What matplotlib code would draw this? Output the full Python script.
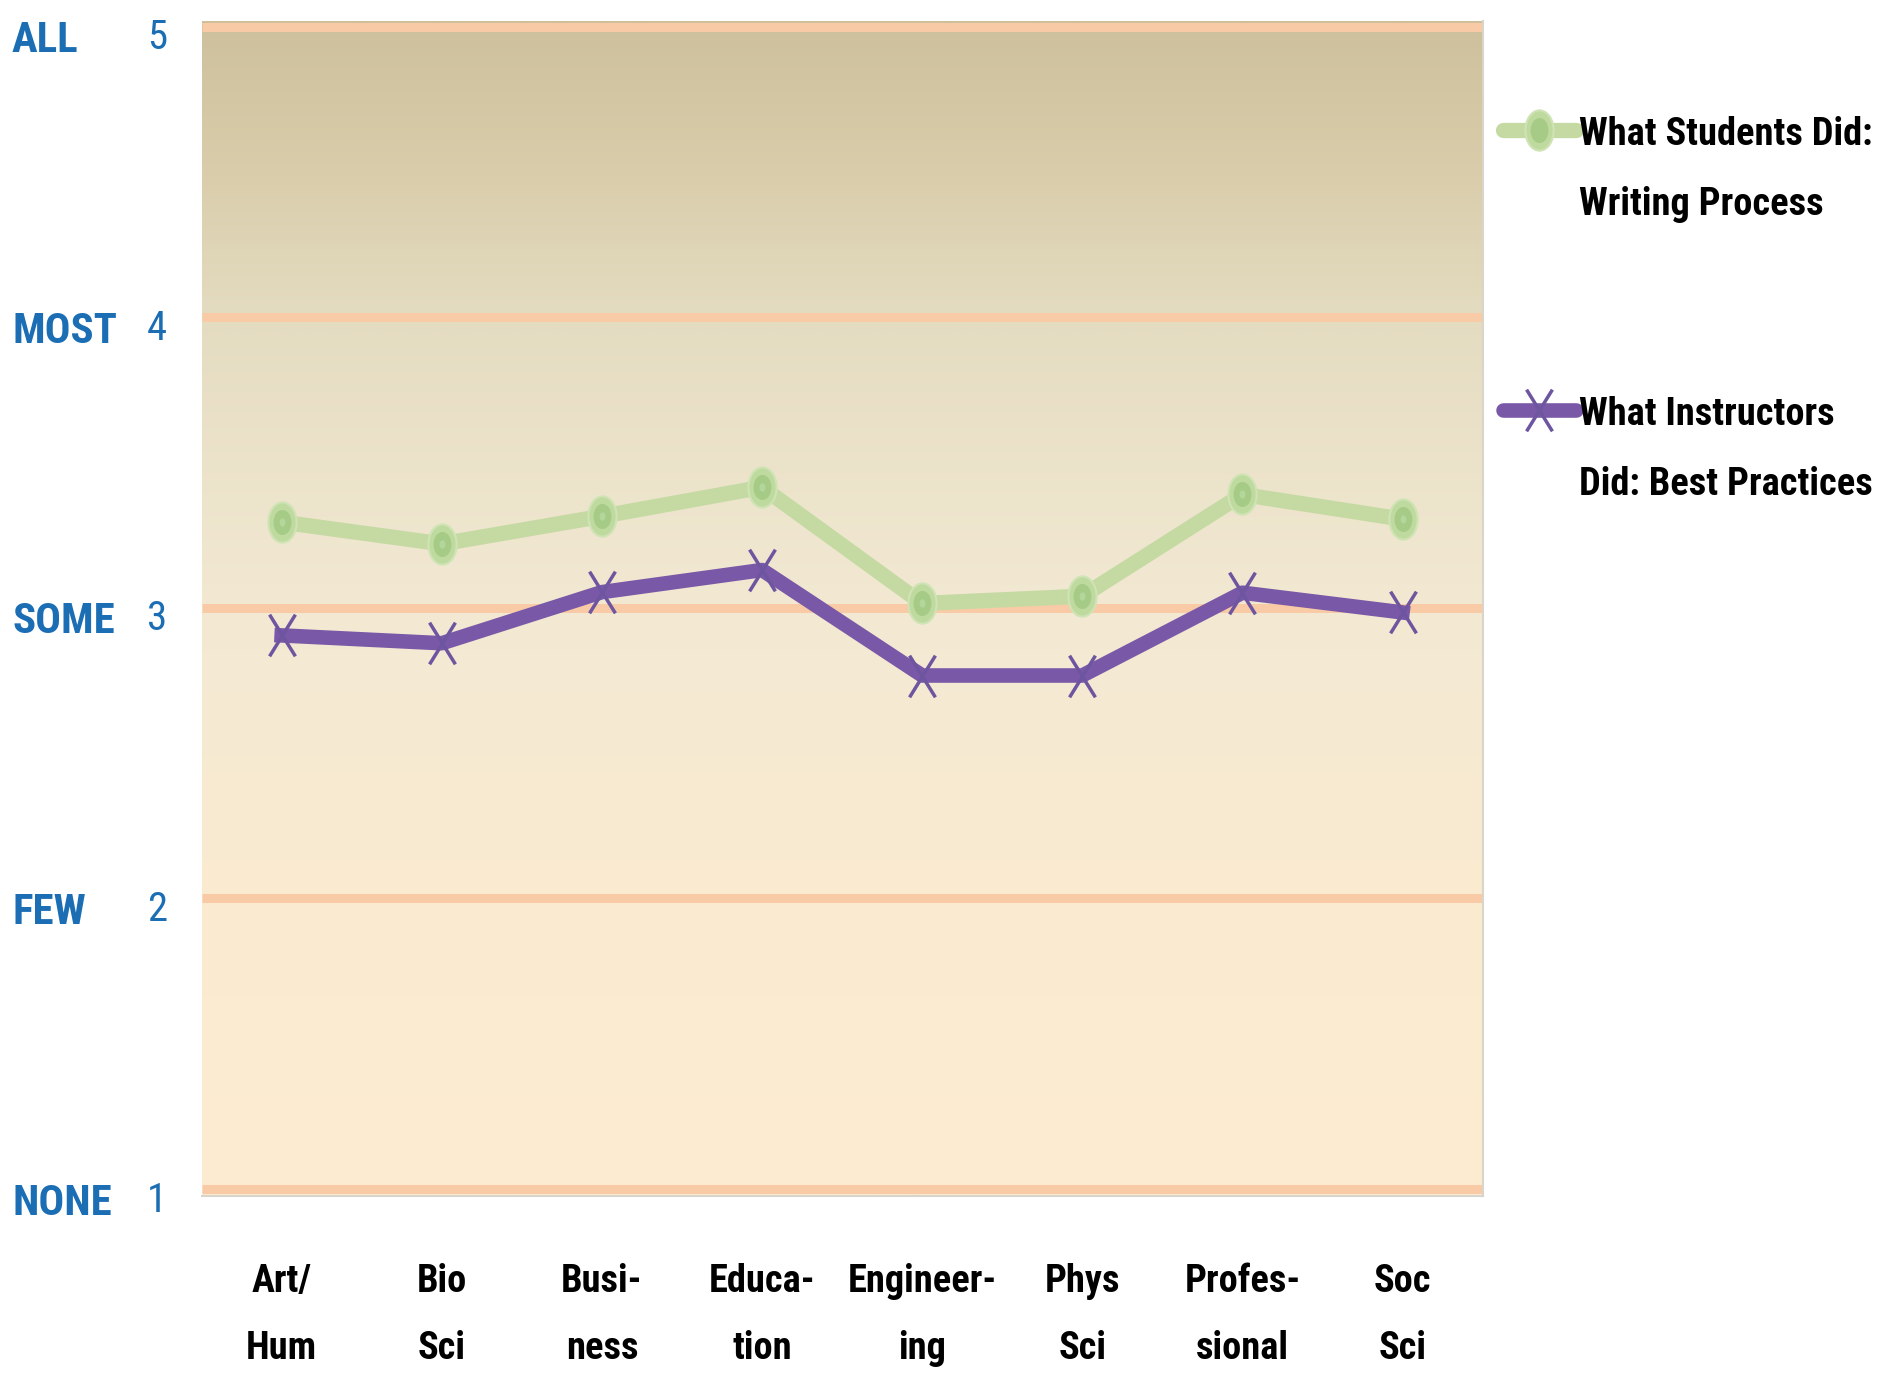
import numpy as np
import matplotlib
matplotlib.use("Agg")
import matplotlib.pyplot as plt
from matplotlib import font_manager
from matplotlib.colors import LinearSegmentedColormap
from matplotlib.path import Path
from matplotlib.lines import Line2D
import matplotlib.transforms as mtrans

# ---------------- data ----------------
categories = ["Art/\nHum", "Bio\nSci", "Busi-\nness", "Educa-\ntion",
              "Engineer-\ning", "Phys\nSci", "Profes-\nsional", "Soc\nSci"]
students_writing = [3.295, 3.22, 3.315, 3.415, 3.015, 3.04, 3.39, 3.305]
instructors_best = [2.905, 2.878, 3.054, 3.13, 2.767, 2.767, 3.052, 2.984]
series_labels = ["What Students Did:\nWriting Process",
                 "What Instructors\nDid: Best Practices"]
y_ticks = [1, 2, 3, 4, 5]
y_words = ["NONE", "FEW", "SOME", "MOST", "ALL"]

# ---------------- fonts ----------------
names = {f.name for f in font_manager.fontManager.ttflist}
fam = "DejaVu Sans"
for cand in ["Liberation Sans Narrow", "Roboto Condensed", "Open Sans Condensed",
             "Noto Sans Condensed", "Roboto", "Liberation Sans", "Inter", "DejaVu Sans"]:
    if cand in names:
        fam = cand
        break
FONT = dict(family=[fam, "DejaVu Sans"])

W, H = 1893, 1376
fig = plt.figure(figsize=(W / 100, H / 100), dpi=100)
fig.patch.set_facecolor("white")
renderer = fig.canvas.get_renderer()


def fit_size(text, target_px, weight="bold"):
    t = fig.text(0, 0, text, fontsize=20, fontweight=weight, **FONT)
    w = t.get_window_extent(renderer=renderer).width
    t.remove()
    return 20 * target_px / w


left_px, right_px = 201.6, 1482.6
y_lo, y_hi = 0.975, 5.02
unit = (1189 - 26.6) / 4.0
bot_px = 1189 + (1 - y_lo) * unit
top_px = 26.6 - (y_hi - 5) * unit
ax = fig.add_axes([left_px / W, 1 - bot_px / H, (right_px - left_px) / W,
                   (bot_px - top_px) / H])

n = len(categories)
xs = np.arange(n)
ax.set_xlim(-0.5, n - 0.5)
ax.set_ylim(y_lo, y_hi)

# gradient background
cmap = LinearSegmentedColormap.from_list(
    "bg", [(0.0, "#FDECD1"), (0.25, "#FAEBD0"), (0.5, "#F3E9D3"),
           (0.75, "#E4DCC1"), (0.87, "#D9CDAB"), (1.0, "#CEC09C")])
grad = np.linspace(0, 1, 512).reshape(-1, 1)
ax.imshow(grad, cmap=cmap, origin="lower", aspect="auto",
          extent=[-0.5, n - 0.5, y_lo, y_hi], zorder=0, interpolation="bilinear")

for t in y_ticks:
    ax.axhline(t, color="#F8CBA6", lw=6.5, zorder=1, solid_capstyle="butt")

# markers
ell = Path.unit_circle().transformed(mtrans.Affine2D().scale(0.7, 1.0))
xverts = [(-0.62, -1), (0.62, 1), (-0.62, 1), (0.62, -1)]
xcodes = [Path.MOVETO, Path.LINETO, Path.MOVETO, Path.LINETO]
xmark = Path(xverts, xcodes)

green_line = "#C5DAA2"
ax.plot(xs, students_writing, color=green_line, lw=11, zorder=3,
        solid_capstyle="round", solid_joinstyle="round")
ax.plot(xs, students_writing, ls="none", marker=ell, ms=29,
        mfc="#BFDA9F", mec="#CFE3B5", mew=1.5, zorder=4)
ax.plot(xs, students_writing, ls="none", marker=ell, ms=17,
        mfc="#A5CB86", mec="#A5CB86", zorder=5)
ax.plot(xs, students_writing, ls="none", marker=ell, ms=6,
        mfc="#B5D69A", mec="none", zorder=6)

purple = "#7A58A8"
ax.plot(xs, instructors_best, color=purple, lw=10.5, zorder=3,
        solid_joinstyle="round")
ax.plot(xs, instructors_best, ls="none", marker=xmark, ms=30,
        mec="#6E55A0", mew=2.5, zorder=4)

for s in ["top", "left"]:
    ax.spines[s].set_visible(False)
for s in ["right", "bottom"]:
    ax.spines[s].set_color("#D9D4CC")
    ax.spines[s].set_linewidth(1.5)
ax.set_xticks([])
ax.set_yticks([])

# y labels
ylab_col = "#1B6DB4"
ysz = min(fit_size("MOST", 105), 36)
nsz = ysz * 0.95
for t, w in zip(y_ticks, y_words):
    yb = t - 0.088
    ax.text(-0.148, yb, w, transform=ax.get_yaxis_transform(), ha="left",
            va="baseline", fontsize=ysz, fontweight="bold", color=ylab_col,
            clip_on=False, **FONT)
    ax.text(-0.0348, yb + 0.01, str(t), transform=ax.get_yaxis_transform(),
            ha="center", va="baseline", fontsize=nsz, color=ylab_col,
            clip_on=False, **FONT)

# x labels
xsz = min(fit_size("Engineer-", 148), 34)
blend = mtrans.blended_transform_factory(ax.transData, fig.transFigure)
for x, lab in zip(xs, categories):
    l1, l2 = lab.split("\n")
    for txt, ypx in ((l1, 1292), (l2, 1359)):
        fig.text(x, 1 - ypx / H, txt, transform=blend, ha="center",
                 va="baseline", fontsize=xsz, fontweight="bold", color="black",
                 **FONT)

# legend (manual)
def fx(px):
    return px / W


def fy(py):
    return 1 - py / H


hx = [fx(1503), fx(1576)]
fig.add_artist(Line2D(hx, [fy(130)] * 2, color=green_line, lw=11,
                      solid_capstyle="round", transform=fig.transFigure))
fig.add_artist(Line2D([fx(1539)], [fy(130)], ls="none", marker=ell, ms=29,
                      mfc="#BFDA9F", mec="#CFE3B5", mew=1.5, transform=fig.transFigure))
fig.add_artist(Line2D([fx(1539)], [fy(130)], ls="none", marker=ell, ms=17,
                      mfc="#A5CB86", mec="#A5CB86", transform=fig.transFigure))
fig.add_artist(Line2D(hx, [fy(410)] * 2, color=purple, lw=10.5,
                      solid_capstyle="round", transform=fig.transFigure))
fig.add_artist(Line2D([fx(1539)], [fy(410)], ls="none", marker=xmark, ms=30,
                      mec="#6E55A0", mew=2.5, transform=fig.transFigure))

lsz = min(fit_size("Did: Best Practices", 292), 34)
for lab, y0 in zip(series_labels, (130, 410)):
    l1, l2 = lab.split("\n")
    fig.text(fx(1579), fy(y0 + 15), l1, ha="left", va="baseline", fontsize=lsz,
             fontweight="bold", color="black", **FONT)
    fig.text(fx(1579), fy(y0 + 85), l2, ha="left", va="baseline", fontsize=lsz,
             fontweight="bold", color="black", **FONT)

fig.savefig("out.png", dpi=100, facecolor="white")
